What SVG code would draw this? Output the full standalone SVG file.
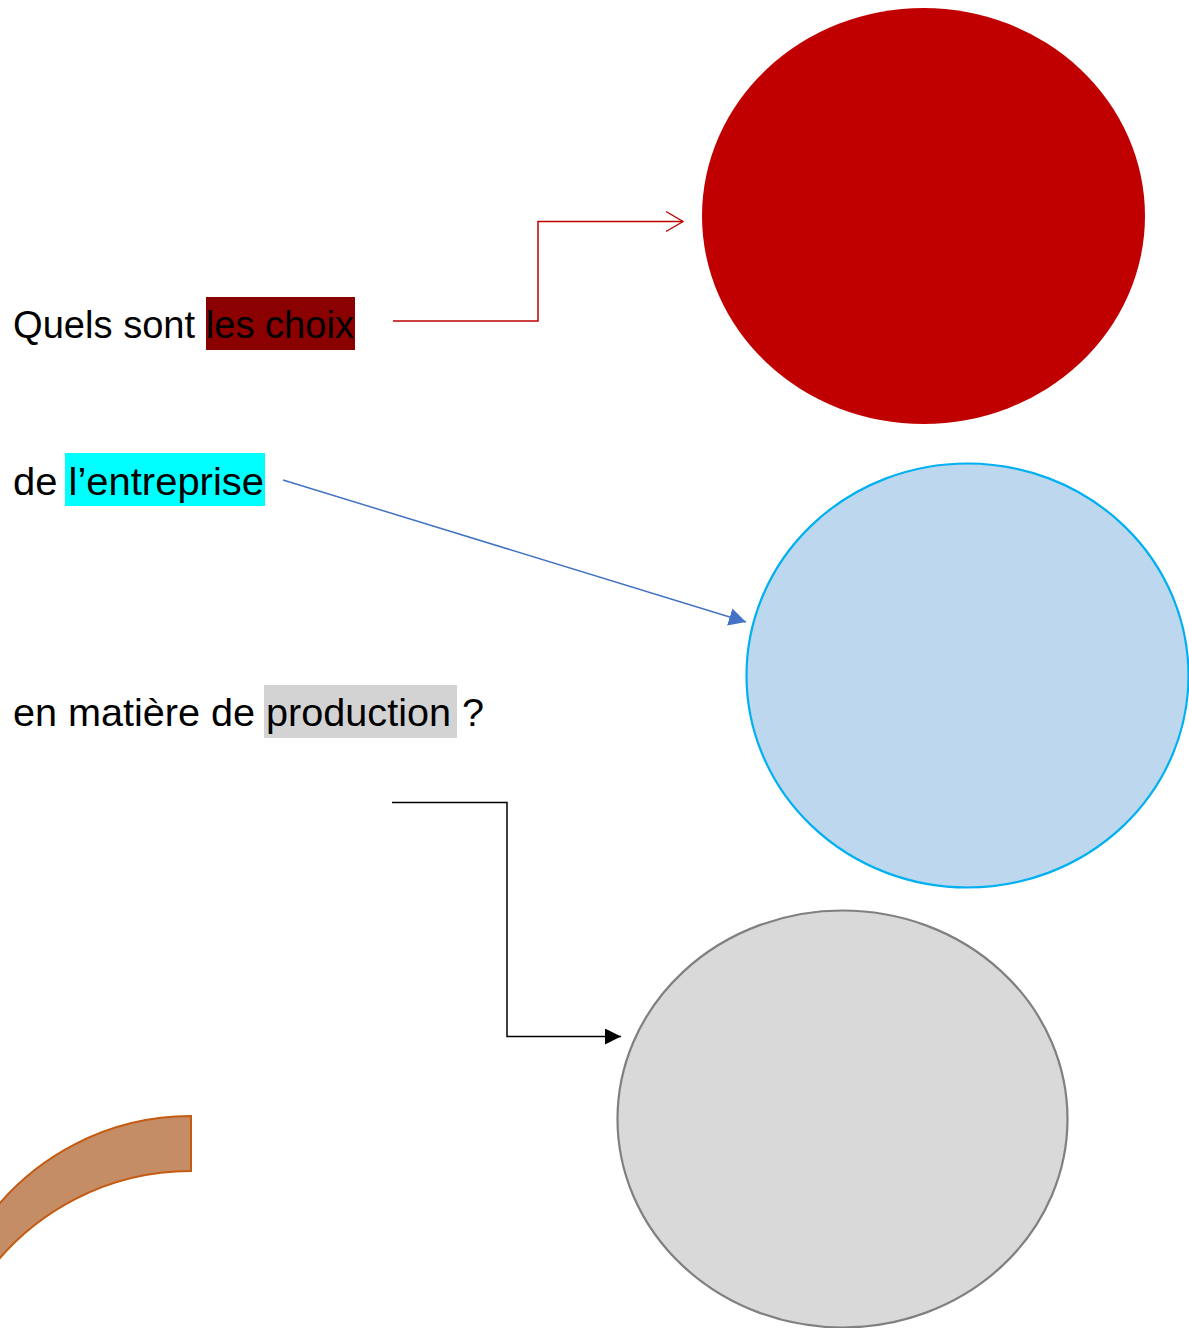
<svg xmlns="http://www.w3.org/2000/svg" width="1189" height="1328" viewBox="0 0 1189 1328">
<style>
.t{font-family:"Liberation Sans",Arial,sans-serif;font-size:39px;fill:#000}
.c{fill:none;stroke-width:1.5}
</style>
<defs>
<marker id="mOpen" markerWidth="20" markerHeight="24" refX="18" refY="12" orient="auto" markerUnits="userSpaceOnUse"><path d="M1,2 L18,12 L1,22" fill="none" stroke="#C00000" stroke-width="1.4"/></marker>
<marker id="mBlue" markerWidth="20" markerHeight="20" refX="17" refY="9" orient="auto" markerUnits="userSpaceOnUse"><path d="M0,0 L17,9 L0,18 Z" fill="#4472C4"/></marker>
<marker id="mBlack" markerWidth="20" markerHeight="20" refX="16" refY="8" orient="auto" markerUnits="userSpaceOnUse"><path d="M0,0 L16,8 L0,16 Z" fill="#000"/></marker>
</defs>
<rect width="1189" height="1328" fill="#fff"/>
<g id="node-red"><ellipse cx="923.5" cy="216" rx="221.5" ry="208" fill="#C00000"/></g>
<g id="node-blue"><ellipse cx="967.5" cy="675.5" rx="221" ry="212" fill="#BDD7EE" stroke="#00B0F0" stroke-width="2.2"/></g>
<g id="node-gray"><ellipse cx="842.5" cy="1119" rx="225" ry="208.5" fill="#D9D9D9" stroke="#808080" stroke-width="2.2"/></g>
<g id="node-arc"><path d="M191,1116 A253,253 0 0 0 -15,1222 L-15,1277 A253,253 0 0 1 191,1171 Z" fill="#C58D66" stroke="#C55A11" stroke-width="2"/></g>
<g id="node-text">
<rect x="206" y="297" width="149" height="53" fill="#8B0000"/>
<rect x="65" y="453" width="200" height="53" fill="#00FFFF"/>
<rect x="264" y="685" width="193" height="53" fill="#D3D3D3"/>
<text class="t" x="13" y="338" textLength="341" lengthAdjust="spacingAndGlyphs">Quels sont les choix</text>
<text class="t" x="13" y="495" textLength="251" lengthAdjust="spacingAndGlyphs">de l’entreprise</text>
<text class="t" x="13" y="726" textLength="471" lengthAdjust="spacingAndGlyphs">en matière de production ?</text>
</g>
<g id="connectors">
<path class="c" d="M393,321 H538 V221.5 H683" stroke="#C00000" marker-end="url(#mOpen)"/>
<path class="c" d="M283,480 L746,622" stroke="#4472C4" marker-end="url(#mBlue)"/>
<path class="c" d="M392,802.5 H507 V1036.5 H621" stroke="#000" marker-end="url(#mBlack)"/>
</g>
</svg>
